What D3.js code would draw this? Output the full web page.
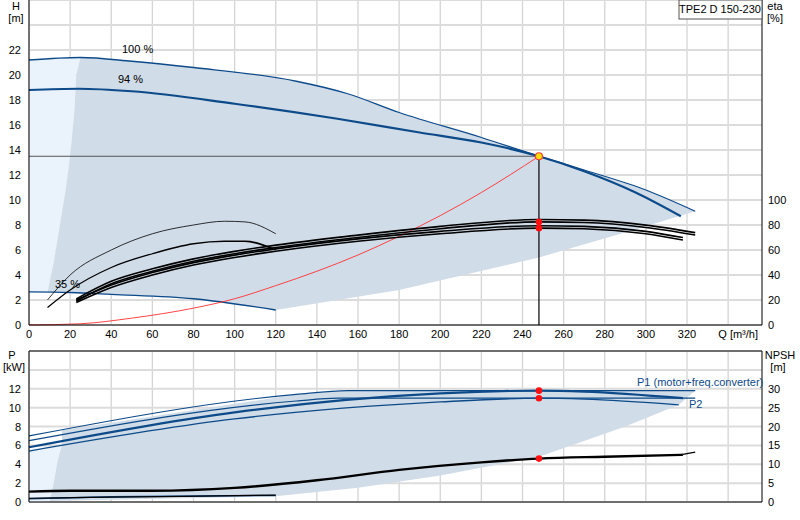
<!DOCTYPE html>
<html><head><meta charset="utf-8">
<script src="https://cdn.jsdelivr.net/npm/d3@7"></script>
<style>body{margin:0;background:#fff}text{font-family:Arial,"Liberation Sans",sans-serif;font-size:11px}</style>
</head><body><svg id="c" width="800" height="520"></svg>
<script>
// H curves [Q, H]
const h100 = [[0,21.2],[25,21.4],[50,21.1],[80,20.6],[130,19.5],[155,18.5],[180,17],[220,15],[248,13.5],[270,12.4],[300,10.8],[324,9.1]];
const h94 = [[0,18.8],[24,18.9],[50,18.7],[100,17.7],[150,16.5],[190,15.4],[220,14.6],[248,13.5],[270,12.3],[295,10.6],[317,8.7]];
const h35 = [[0,2.65],[20,2.6],[40,2.45],[80,2.1],[120,1.2]];
const hLower = [[324,9.1],[294,7.6],[248,5.4],[180,2.8],[120,1.2]];
const hLeft = [[9,2.65],[12,5],[15,8],[18,11],[20,13.5],[22,17],[23,20],[25,21.4]];
const system = [[0,0],[25,0.1],[50,0.55],[80,1.35],[100,2.1],[120,3.15],[140,4.3],[160,5.6],[180,7.1],[200,8.75],[220,10.6],[248,13.5]];
// efficiency curves [Q, eta %]
const etaUp = [[23,19],[40,33],[60,43],[80,51],[100,57],[120,62],[160,70],[200,77],[248,82.5],[270,82],[300,78],[324,72]];
const etaLow = [[23,18],[40,30],[60,40],[80,48],[100,54],[120,59],[160,67],[200,73],[248,77.5],[270,77],[300,73],[318,68]];
const etaThin = [[9,20],[20,40],[40,60],[60,73],[80,80],[95,83],[105,82.5],[120,73]];
const etaMid = [[9,14],[20,28],[40,46],[60,57],[80,65],[95,67],[105,67],[120,60]];
// power curves [Q, kW]
const p1Max = [[0,7.0],[130,11.4],[155,11.8],[248,11.8],[324,11.8]];
const p2Max = [[0,6.5],[130,10.7],[150,11.0],[248,11.0],[324,11.0]];
const p1 = [[0,5.8],[100,9.5],[200,11.5],[248,11.8],[270,11.7],[318,11.0]];
const p2 = [[0,5.4],[100,8.8],[200,10.6],[248,11.0],[270,10.9],[316,10.3]];
const p35 = [[0,0.35],[40,0.55],[120,0.7]];
const pLower = [[316,10.3],[290,8],[248,4.8],[200,2.8],[160,1.5],[120,0.6],[0,0.3]];
const pLeft = [[10,0.1],[12,2],[14,4.5],[16,6.0]];
// NPSH [Q, m]
const npsh = [[0,2.75],[20,3],[60,3],[100,3.75],[140,5.75],[180,8.5],[220,10.5],[248,11.5],[280,12],[318,12.5]];
const npshExt = [[318,12.6],[324,13.2]];
const npsh35 = [[0,1],[30,1.2],[120,1.8]];
const duty = {q:248, h:13.5, etaA:82.5, etaB:77.5, p1:11.8, p2:11.0, npsh:11.5};
const qTicks = d3.range(0,340,20);

const svg = d3.select("#c");
const x = d3.scaleLinear().domain([0,320]).range([29,687]);
const L=29, R=762;
const yH = d3.scaleLinear().domain([0,26]).range([325,0]);
const yP = d3.scaleLinear().domain([0,16]).range([502,351]);
const line = (ys,k=1) => d3.line().x(d=>x(d[0])).y(d=>ys(d[1]*k)).curve(d3.curveMonotoneX);
const lineL = (ys,k=1) => d3.line().x(d=>x(d[0])).y(d=>ys(d[1]*k));

function grid(ys, top, bottom, ticks){
  const g = svg.append("g");
  g.selectAll(".v").data(d3.range(0,360,20)).join("line")
    .attr("x1",d=>x(d)).attr("x2",d=>x(d)).attr("y1",top).attr("y2",bottom)
    .attr("stroke","#d4d4d4").attr("stroke-width",1.3);
  g.selectAll(".h").data(ticks).join("line")
    .attr("x1",L).attr("x2",R).attr("y1",d=>ys(d)).attr("y2",d=>ys(d))
    .attr("stroke","#dcdcdc").attr("stroke-width",2);
}
grid(yH,0,325,d3.range(0,28,2));
grid(yP,351,502,d3.range(0,18,2));

// top shading
svg.append("path").attr("fill","#eaf3fb")
  .attr("d",lineL(yH)([[0,h100[0][1]],[25,21.4],...hLeft.slice().reverse(),[9,2.65],[0,2.65]]));
svg.append("path").attr("fill","#d0dce8")
  .attr("d",lineL(yH)([...h100.slice(1),...hLower.slice(1),...h35.slice().reverse().filter(d=>d[0]>9),...hLeft]));

// bottom shading
svg.append("path").attr("fill","#eaf3fb")
  .attr("d",lineL(yP)([[0,0],[10,0.1],...pLeft.slice(1),[16,6.0],[0,5.6]]));
svg.append("path").attr("fill","#d0dce8")
  .attr("d",lineL(yP)([[16,7.6],...p1Max.slice(1),...pLower.slice(0,6),[10,0.1],...pLeft.slice(1)]));

const blue="#0d4a8a";
function draw(d, ys, k, col, w){
  svg.append("path").attr("d",line(ys,k)(d)).attr("fill","none").attr("stroke",col).attr("stroke-width",w);
}
draw(h100,yH,1,blue,1.3); draw(h94,yH,1,blue,2.2); draw(h35,yH,1,blue,1.3);
draw(system,yH,1,"#ff3030",0.9);
[[etaUp,0],[etaUp,-0.8],[etaLow,0],[etaLow,-0.8]].forEach(([d,o])=>{
  svg.append("path").attr("d",line(yH,0.1)(d)).attr("transform",`translate(0,${o*3})`)
    .attr("fill","none").attr("stroke","#000").attr("stroke-width",1.6);
});
draw(etaThin,yH,0.1,"#000",0.8); draw(etaMid,yH,0.1,"#000",1.3);

// duty lines
svg.append("line").attr("x1",L).attr("x2",x(duty.q)).attr("y1",yH(duty.h)).attr("y2",yH(duty.h)).attr("stroke","#555").attr("stroke-width",1);
svg.append("line").attr("x1",x(duty.q)).attr("x2",x(duty.q)).attr("y1",yH(duty.h)).attr("y2",325).attr("stroke","#000").attr("stroke-width",1.2);

draw(p1Max,yP,1,blue,1.2); draw(p2Max,yP,1,blue,1.2);
draw(p1,yP,1,blue,2.2); draw(p2,yP,1,blue,1.3); draw(p35,yP,1,blue,1.5);
draw(npsh,yP,0.4,"#000",2.4); draw(npshExt,yP,0.4,"#000",1.2); draw(npsh35,yP,0.4,"#000",1.2);

// points
svg.append("circle").attr("cx",x(duty.q)).attr("cy",yH(duty.h)).attr("r",3.5).attr("fill","#ffe000").attr("stroke","#ff3b3b").attr("stroke-width",1.2);
[[yH,duty.etaA/10],[yH,duty.etaB/10],[yP,duty.p1],[yP,duty.p2],[yP,duty.npsh*0.4]].forEach(([ys,v])=>{
  svg.append("circle").attr("cx",x(duty.q)).attr("cy",ys(v)).attr("r",3.3).attr("fill","#ff1010");
});

// axes
function axisLine(x1,y1,x2,y2){svg.append("line").attr("x1",x1).attr("y1",y1).attr("x2",x2).attr("y2",y2).attr("stroke","#000").attr("stroke-width",1);}
axisLine(L,0,L,325); axisLine(R,0,R,325); axisLine(L,325,R,325);
axisLine(L,351,L,502); axisLine(R,351,R,502); axisLine(L,502,R,502); axisLine(L,351,R,351);
const txt=(t,px,py,a="end",c="#000")=>svg.append("text").attr("x",px).attr("y",py).attr("text-anchor",a).attr("fill",c).text(t);
d3.range(0,24,2).forEach(v=>txt(v,21,yH(v)+4));
[0,20,40,60,80,100].forEach(v=>txt(v,768,yH(v/10)+4,"start"));
d3.range(0,14,2).forEach(v=>txt(v,21,yP(v)+4));
d3.range(0,35,5).forEach(v=>txt(v,768,yP(v*0.4)+4,"start"));
qTicks.forEach(v=>txt(v,x(v),338,"middle"));
txt("Q [m³/h]",758,338,"end");
txt("H",16,10,"middle"); txt("[m]",16,22,"middle");
txt("eta",775,10,"middle"); txt("[%]",775,22,"middle");
txt("P",12,359,"middle"); txt("[kW]",14,371,"middle");
txt("NPSH",780,359,"middle"); txt("[m]",778,371,"middle");
txt("100 %",122,53,"start"); txt("94 %",118,83,"start"); txt("35 %",55,288,"start");
txt("P1 (motor+freq.converter)",637,386,"start",blue); txt("P2",689,408,"start",blue);
svg.append("rect").attr("x",679).attr("y",0).attr("width",83).attr("height",19).attr("fill","#fff").attr("stroke","#555");
txt("TPE2 D 150-230",720,13,"middle");
</script></body></html>
